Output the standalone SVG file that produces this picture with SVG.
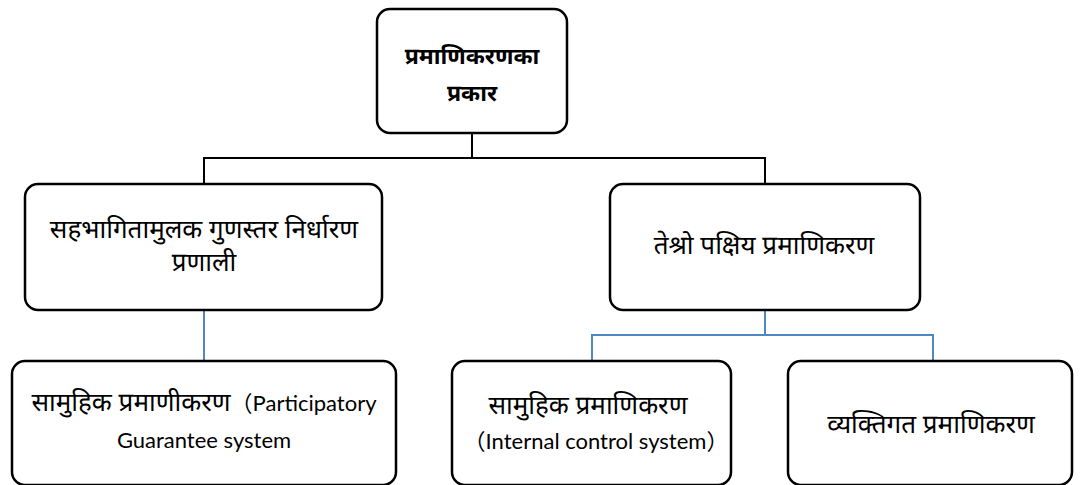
<svg xmlns="http://www.w3.org/2000/svg" width="1083" height="485" viewBox="0 0 1083 485">
<style>
.box{fill:#fff;stroke:#000;stroke-width:2.5}
.blk{fill:none;stroke:#000;stroke-width:2}
.blu{fill:none;stroke:#4f87c2;stroke-width:2}
.dv{font-family:"Noto Sans Devanagari","Lohit Devanagari","Mangal","Noto Sans","Noto Sans CJK SC",sans-serif;font-size:26px;fill:#000;text-anchor:middle}
.hd{font-size:23px;font-weight:bold}
.lt{font-family:"Lato","Noto Sans CJK SC",sans-serif;font-size:22px;fill:#000}
</style>
<rect width="1083" height="485" fill="#fff"/>
<g id="connectors">
<path class="blk" d="M472 133V158M204 184V158H765V184"/>
<path class="blu" d="M204 310V361"/>
<path class="blu" d="M765 310V335M592 361V335H933V361"/>
</g>
<g id="n-root">
<rect class="box" x="377" y="9" width="190" height="124" rx="13"/>
<text class="dv hd" x="472" y="64">प्रमाणिकरणका</text>
<text class="dv hd" x="472" y="101">प्रकार</text>
</g>
<g id="n-left">
<rect class="box" x="25" y="184" width="357" height="126" rx="13"/>
<text class="dv" x="204" y="238">सहभागितामुलक गुणस्तर निर्धारण</text>
<text class="dv" x="204" y="271">प्रणाली</text>
</g>
<g id="n-right">
<rect class="box" x="610" y="184" width="310" height="126" rx="13"/>
<text class="dv" x="764" y="254">तेश्रो पक्षिय प्रमाणिकरण</text>
</g>
<g id="n-pgs">
<rect class="box" x="12" y="361" width="384" height="124" rx="13"/>
<text class="dv" x="204" y="411"><tspan>सामुहिक प्रमाणीकरण</tspan><tspan class="lt">（Participatory</tspan></text>
<text class="lt" x="204" y="448" text-anchor="middle">Guarantee system</text>
</g>
<g id="n-ics">
<rect class="box" x="452" y="361" width="279" height="124" rx="13"/>
<text class="dv" x="588" y="414">सामुहिक प्रमाणिकरण</text>
<text class="lt" x="596" y="449" text-anchor="middle">（Internal control system）</text>
</g>
<g id="n-ind">
<rect class="box" x="788" y="361" width="284" height="124" rx="13"/>
<text class="dv" x="931" y="433">व्यक्तिगत प्रमाणिकरण</text>
</g>
</svg>
